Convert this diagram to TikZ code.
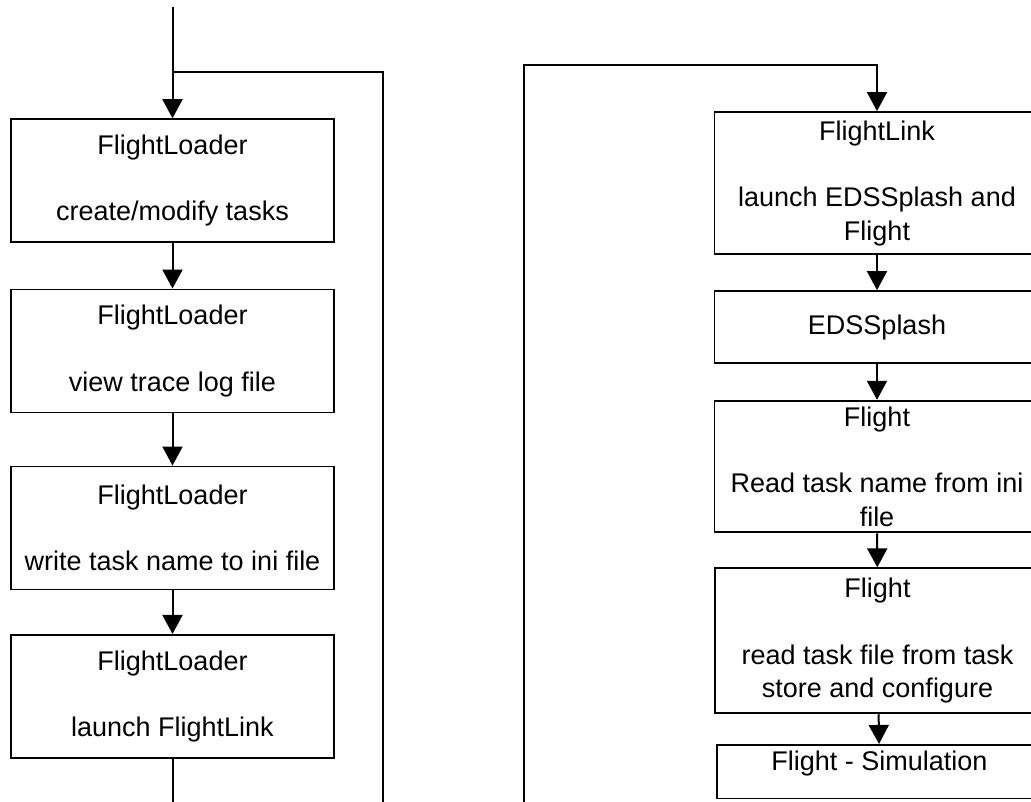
\documentclass[tikz,border=0pt]{standalone}
\usepackage{fontspec}
\setmainfont{Liberation Sans}
\usetikzlibrary{arrows.meta}
\tikzset{
  flow/.style={line width=2pt},
  tip/.style={-{Triangle[length=19pt,width=20pt]}},
  stepbox/.style={draw, line width=1.9pt, rectangle, inner sep=0pt,
    align=center, font=\fontsize{27}{33.3}\selectfont},
  leftbox/.style={stepbox, minimum width=323pt, minimum height=123pt},
  rightbox/.style={stepbox, minimum width=325pt},
}
\begin{document}
\begin{tikzpicture}[x=1pt,y=-1pt]
\useasboundingbox (0,0) rectangle (1031,802);

% FlightLoader column
\node[leftbox] (l1) at (172.5,180.7) {FlightLoader\\[33.3pt]create/modify tasks};
\node[leftbox] (l2) at (172.5,351.0) {FlightLoader\\[33.3pt]view trace log file};
\node[leftbox] (l3) at (172.5,528.0) {FlightLoader\\[33.3pt]write task name to ini file};
\node[leftbox] (l4) at (172.5,696.4) {FlightLoader\\[33.3pt]launch FlightLink};

% Flight column
\node[rightbox, minimum height=142.3pt] (r1) at (877,183.2) {FlightLink\\[33.3pt]launch EDSSplash and\\Flight};
\node[rightbox, minimum height=72.3pt] (r2) at (877,327.2) {EDSSplash};
\node[rightbox, minimum height=131.6pt] (r3) at (877,466.5) {Flight\\[33.3pt]Read task name from ini\\file};
\node[rightbox, minimum height=145pt] (r4) at (877.5,640.8) {Flight\\[33.3pt]read task file from task\\store and configure};
\node[rightbox, text height=26pt, text depth=27.6pt] (sim) at (879.5,771.7) {Flight - Simulation};

% entry and loop-back lines
\coordinate (start) at (172.5,7);
\coordinate (ljoin) at (172.5,72);
\coordinate (lloop) at (383,806);
\coordinate (lout) at (172.5,806);
\coordinate (rloop) at (524,806);
\coordinate (rtop) at (877,65);

\draw[flow,tip] (start) -- (l1.north);
\draw[flow] (ljoin) -| (lloop);
\draw[flow,tip] (l1) -- (l2);
\draw[flow,tip] (l2) -- (l3);
\draw[flow,tip] (l3) -- (l4);
\draw[flow] (l4) -- (lout);

\draw[flow,tip] (rloop) |- (rtop) -- (r1.north);
\draw[flow,tip] (r1) -- (r2);
\draw[flow,tip] (r2) -- (r3);
\draw[flow,tip] (r3) -- (r4);
\draw[flow,tip] (r4) -- (sim);
\end{tikzpicture}
\end{document}
